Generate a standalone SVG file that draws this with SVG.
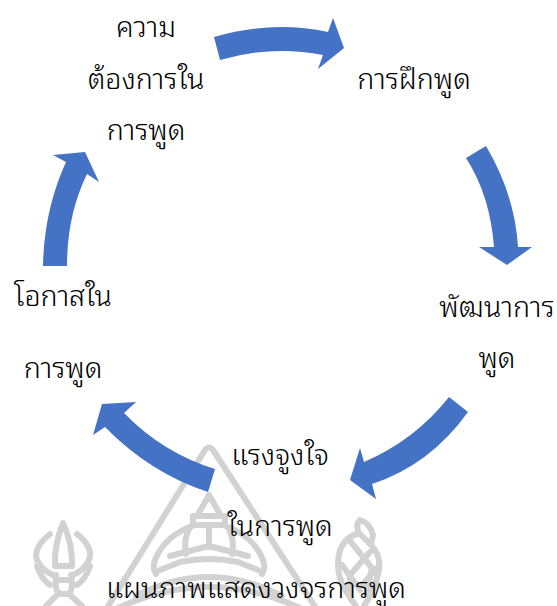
<svg xmlns="http://www.w3.org/2000/svg" width="557" height="606" viewBox="0 0 557 606">
<style>
.t{font-family:"Noto Sans Thai Looped","Loma","Waree","Garuda","Noto Sans Thai","Liberation Sans","DejaVu Sans","Noto Sans",sans-serif;font-size:28.6px;font-weight:300;fill:#000;text-anchor:middle}
.a{fill:#4472c4}
.w{fill:none;stroke:#d2d2d2;stroke-width:6;stroke-linejoin:round;stroke-linecap:round}
</style>
<rect width="557" height="606" fill="#fff"/>
<g id="watermark" class="w">
<path d="M107 608L205 450Q209 445 213 450L316 608"/>
<path d="M197 516L209 495L221 516M193 516H225V525H193Z"/>
<path d="M195 525Q165 535 155 560Q152 568 156 574M223 525Q253 535 263 560Q266 568 262 574"/>
<path d="M209 525V547M190 527Q183 540 186 554M228 527Q235 540 232 554"/>
<path d="M170 556L209 546L248 556"/>
<path d="M160 570L180 562Q209 556 238 562L258 570"/>
<path d="M136 596Q209 558 282 596M118 608Q209 566 300 608"/>
<path d="M63 523Q54 545 55 566H72Q73 545 63 523ZM50 534Q36 545 36 556Q38 568 53 575M77 534Q91 545 90 556Q88 568 73 575"/>
<path d="M57 580H70M56 575Q54 590 60 594H68Q74 590 71 575M58 594L46 606M69 594L82 606M37 566Q42 580 50 585M90 566Q85 580 77 585"/>
<path d="M360 520Q355 525 359 533L371 545L373 535Q370 523 360 520ZM359 533Q345 537 340 550Q336 565 340 578Q345 592 356 606M371 545Q381 555 379 570Q375 590 364 606M350 541L372 568L366 595M342 565L360 590M370 552L350 575L349 596M378 567L362 585"/>
</g>
<g id="connectors">
<path class="a" d="M214 37Q272 20 328 32L333 18L344 48L318 69L323 55Q272 45 220 60Z"/>
<path class="a" d="M486 146Q515 195 518 247H532L507 265L479 247H494Q490 195 466 158Z"/>
<path class="a" d="M468 412Q430 465 372 484L376 499L350 480L360 448L364 462Q415 440 449 397Z"/>
<path class="a" d="M215 469Q163 453 124 413L136 402L102 404L93 435L105 427Q150 473 208 492Z"/>
<path class="a" d="M43 266Q44 210 66 162L53 155L85 152L99 182L87 174Q67 215 67 266Z"/>
</g>
<g id="n1"><text class="t" x="146" y="37">ความ</text><text class="t" x="146" y="89">ต้องการใน</text><text class="t" x="146" y="140">การพูด</text></g>
<g id="n2"><text class="t" x="414" y="89">การฝึกพูด</text></g>
<g id="n3"><text class="t" x="497" y="317">พัฒนาการ</text><text class="t" x="497" y="368">พูด</text></g>
<g id="n4"><text class="t" x="280" y="465">แรงจูงใจ</text><text class="t" x="280" y="536">ในการพูด</text></g>
<g id="n5"><text class="t" x="63" y="306">โอกาสใน</text><text class="t" x="63" y="378">การพูด</text></g>
<g id="caption"><text class="t" x="256" y="598">แผนภาพแสดงวงจรการพูด</text></g>
</svg>
